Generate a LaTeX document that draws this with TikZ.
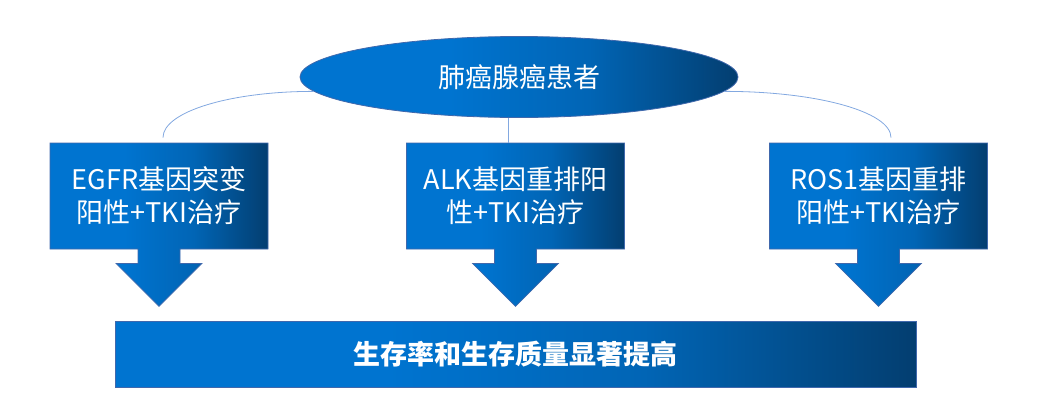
\documentclass[tikz,border=0pt]{standalone}
\usepackage{fontspec}
\setmainfont{Noto Sans CJK SC}
\usetikzlibrary{shapes.geometric,shapes.arrows,positioning}
\definecolor{blueL}{RGB}{0,116,208}
\definecolor{blueR}{RGB}{3,62,112}
\definecolor{edgeblue}{RGB}{64,104,172}
\definecolor{linkblue}{RGB}{130,168,224}
\pgfdeclarehorizontalshading{pptblue}{100bp}{color(0bp)=(blueL); color(25bp)=(blueL); color(42bp)=(blueL); color(58bp)=(blueL!72!blueR); color(75bp)=(blueR); color(100bp)=(blueR)}

\begin{document}
\begin{tikzpicture}[x=1pt,y=-1pt,
every node/.style={text=white,font=\fontsize{27}{33}\selectfont},
patient/.style={ellipse,draw=edgeblue,line width=0.8pt,shading=pptblue,minimum width=438pt,minimum height=81pt},
callbox/.style={arrow box,draw=edgeblue,line width=0.8pt,shading=pptblue,align=center,minimum width=218pt,minimum height=106pt,arrow box arrows={south:57pt from border},arrow box shaft width=42pt,arrow box head extend=22pt,arrow box head indent=0pt},
result/.style={rectangle,draw=edgeblue,line width=0.8pt,shading=pptblue,minimum width=801pt,minimum height=66pt},
link/.style={draw=linkblue,line width=0.8pt}]
\useasboundingbox (0,0) rectangle (1042,405);
\node[patient] (lung) at (519,77) {肺癌腺癌患者};
\node[callbox] (egfr) at (159,196) {EGFR基因突变\\阳性+TKI治疗};
\node[callbox] [right of=egfr,node distance=356.5pt](alk) {ALK基因重排阳\\性+TKI治疗};
\node[callbox] [right of=alk,node distance=363pt](ros) {ROS1基因重排\\阳性+TKI治疗};
\node[result] (gain) at (515.5,354) {\bfseries 生存率和生存质量显著提高};
\path[link] (lung.184) .. controls +(-83,0) and +(0,-26) .. ([xshift=4pt,yshift=5pt]egfr.north);
\path[link] (lung.-4) .. controls +(92,0) and +(0,-26) .. ([xshift=12.5pt,yshift=5pt]ros.north);
\path[link] ([xshift=-11pt]lung.south) -- ([xshift=-11pt]lung.south |- alk.north);
\end{tikzpicture}
\end{document}
